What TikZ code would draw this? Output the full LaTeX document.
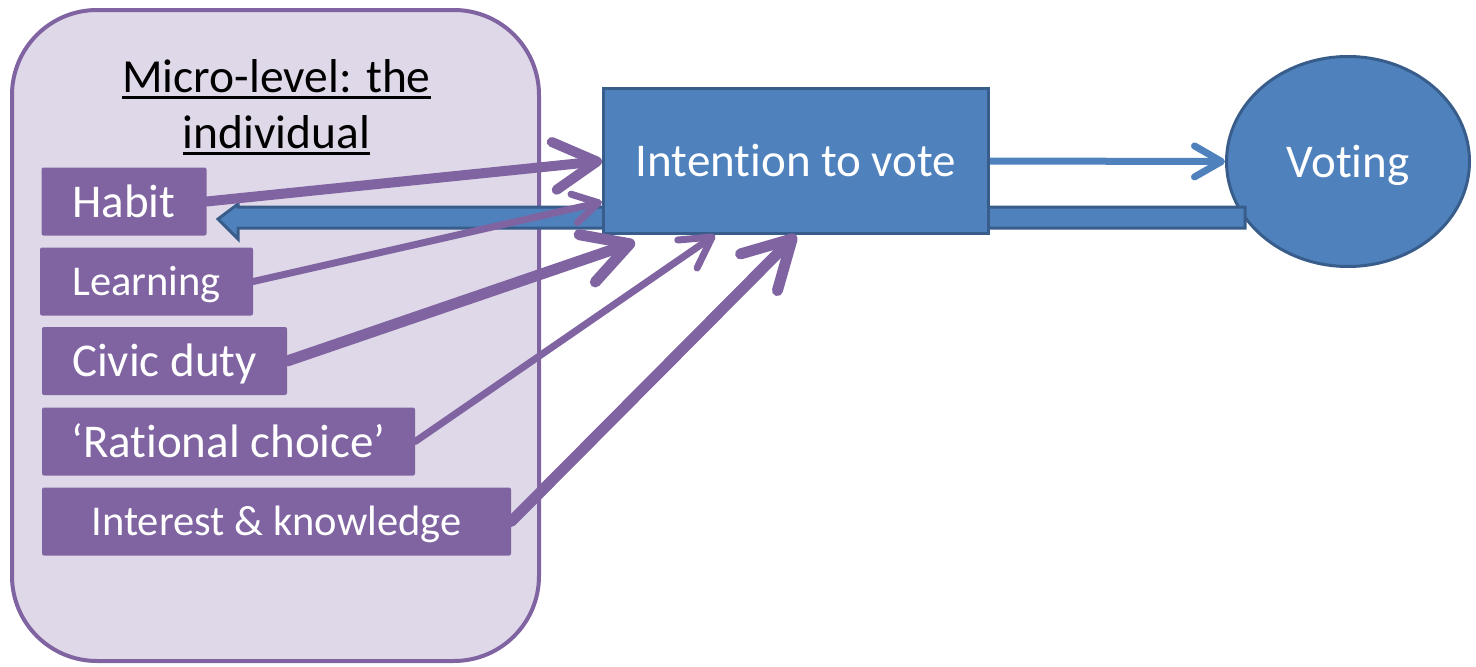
\documentclass[tikz,border=0pt]{standalone}
\usepackage{fontspec}
\setmainfont{Carlito}[Ligatures=NoCommon]
\usetikzlibrary{arrows.meta,shapes.geometric,calc}

\definecolor{lavender}{HTML}{DFD8E8}
\definecolor{plum}{HTML}{8064A2}
\definecolor{steel}{HTML}{4F81BD}
\definecolor{navyedge}{HTML}{385D8A}

% underline drawn as a rule a little below the baseline
\newcommand{\ulined}[1]{\setbox0=\hbox{#1}\rlap{\rule[-6.5pt]{\wd0}{3pt}}\box0}

\begin{document}
\begin{tikzpicture}[x=1pt,y=-1pt,
  bigfont/.style={font=\fontsize{47}{57}\selectfont, text height=42.3pt, text depth=10.6pt},
  midfont/.style={font=\fontsize{42.5}{52}\selectfont, text height=38.3pt, text depth=9.6pt},
  smallfont/.style={font=\fontsize{42.5}{52}\selectfont, text height=38.3pt, text depth=9.6pt},
  labelbox/.style={fill=plum, text=white, rounded corners=2pt, inner sep=0pt,
    minimum height=68pt, bigfont},
  bluebox/.style={fill=steel, draw=navyedge, line width=3pt, text=white, inner sep=0pt, bigfont},
  factor/.style={draw=plum, line cap=round},
  barb/.style 2 args={-{Straight Barb[length=#1,width=#2,line cap=round,line join=round]}}
]
\useasboundingbox (0,0) rectangle (1476,667);

% the individual: container and title
\node[draw=plum, fill=lavender, line width=4pt, rounded corners=85pt,
      minimum width=527pt, minimum height=651pt, inner sep=0pt] (micro) at (275.5,335.5) {};
\node[font=\fontsize{47.5}{56}\selectfont, align=center, inner sep=0pt] (title) at (276.5,107)
  {\ulined{Micro-level: the}\\\ulined{individual}};

% factors
\node[labelbox, minimum width=165pt] (habit) at (124,201.5) {Habit};
\node[labelbox, midfont, minimum width=213pt] (learning) at (146.5,281.5) {Learning};
\node[labelbox, minimum width=245pt] (civic) at (164.5,361) {Civic duty};
\node[labelbox, minimum width=373pt] (rational) at (228.5,441.5) {‘Rational choice’};
\node[labelbox, smallfont, minimum width=469pt] (interest) at (276.5,521.5) {Interest \& knowledge};

% outcome
\node[ellipse, bluebox, minimum width=243pt, minimum height=210pt] (voting) at (1348,161.5) {Voting};

% feedback from voting back to habit
\coordinate (fbhead) at (218,219);
\coordinate (fbtail) at (1245,217.5);
\draw[fill=steel, draw=navyedge, line width=3pt, line join=miter]
  ($(fbtail)+(0,-10.5)$) -- ($(fbhead)+(20,-12)$) -- ($(fbhead)+(20,-15)$) -- (fbhead)
  -- ($(fbhead)+(20,20)$) -- ($(fbhead)+(20,9)$) -- ($(fbtail)+(0,10.5)$) -- cycle;

% intention
\node[bluebox, minimum width=385pt, minimum height=145pt] (intention) at (796,161) {Intention to vote};

% intention leads to voting
\draw[draw=steel, line width=7pt, barb={27pt}{31pt}] (intention.east) -- (voting.west);

% factors feed intention
\draw[factor, line width=10pt, barb={43pt}{48pt}] (habit.east) -- (intention.west);
\draw[factor, line width=7pt, barb={25pt}{29pt}] (learning.east) -- ($(intention.south west)+(0,-33)$);
\draw[factor, line width=11pt, barb={45pt}{50pt}] (civic.east) -- ($(intention.south west)+(33,7)$);
\draw[factor, line width=7pt, barb={30pt}{34pt}] (rational.east) -- ($(intention.south west)+(113,0)$);
\draw[factor, line width=11pt, barb={47pt}{52pt}] (interest.east) -- (intention.south);
\end{tikzpicture}
\end{document}
